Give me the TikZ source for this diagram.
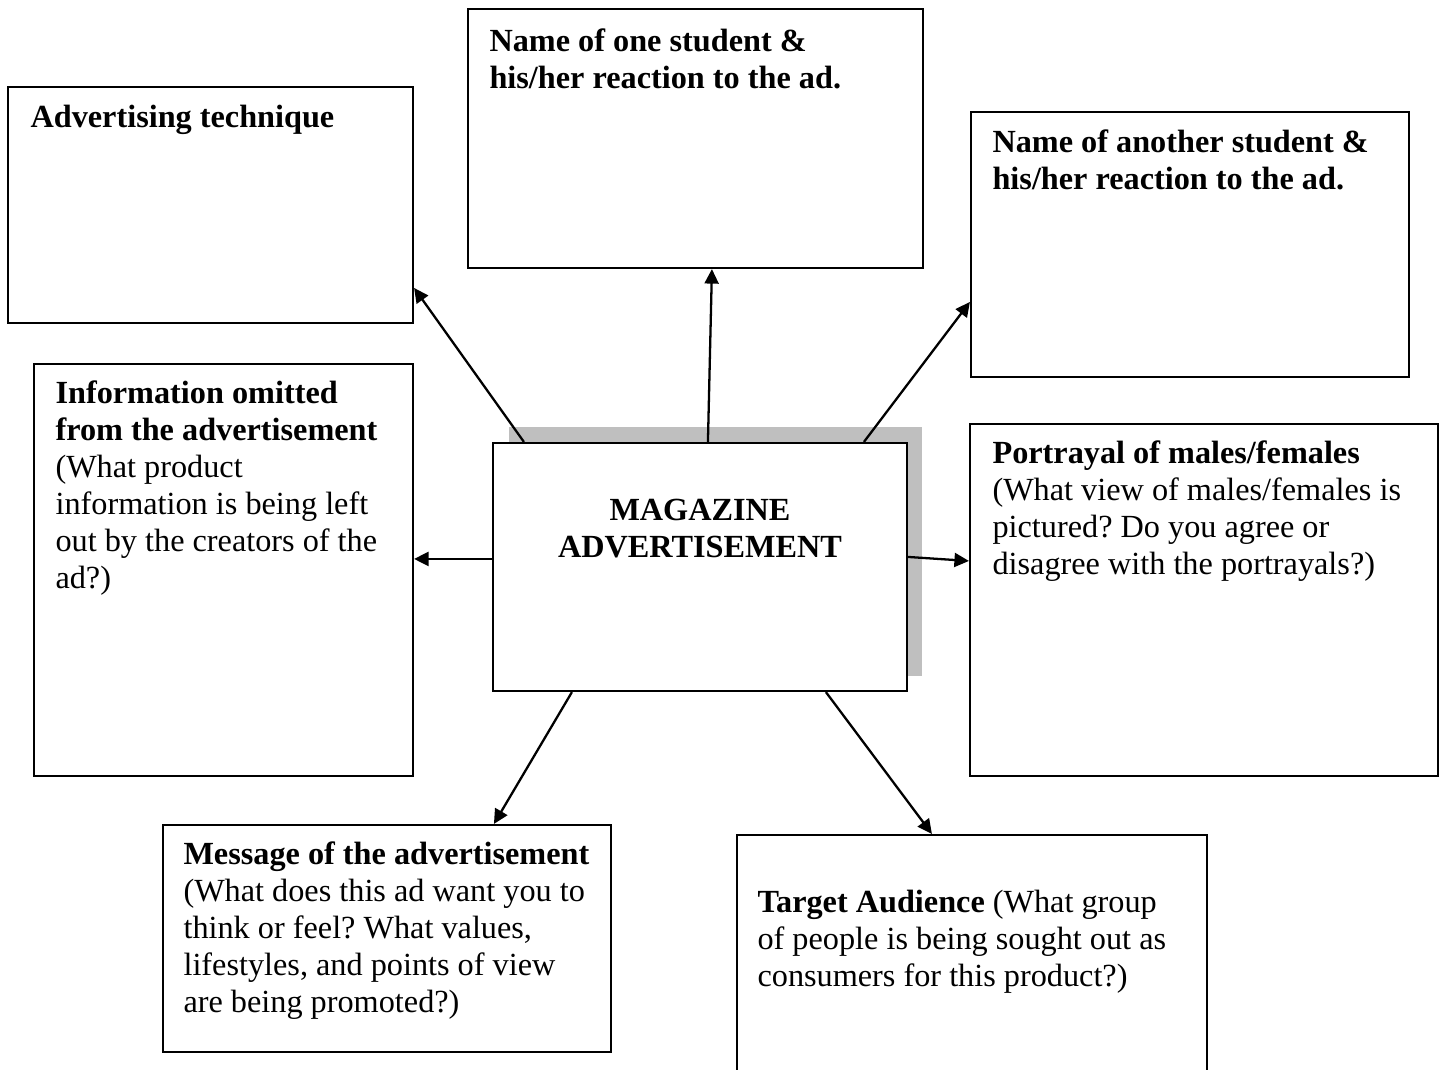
\documentclass[tikz,border=0pt]{standalone}
\usepackage{fontspec}
\setmainfont{Liberation Serif}
\usetikzlibrary{arrows.meta,calc,fit}
\definecolor{shadowgray}{HTML}{BFBFBF}
\frenchspacing
\begin{document}
\begin{tikzpicture}[x=0.372pt,y=-0.372pt,
  box/.style={draw=black,line width=0.8pt,inner sep=0pt,fill=white},
  shade box/.style={fill=shadowgray,inner sep=0pt},
  txt/.style={inner sep=0pt,anchor=base west,align=flush left,text width=240pt,
    font=\fontsize{12pt}{13.8pt}\selectfont\frenchspacing},
  ctxt/.style={inner sep=0pt,anchor=base,align=flush center,text width=160pt,
    font=\fontsize{12pt}{13.8pt}\selectfont\bfseries},
  arr/.style={line width=0.85pt,-{Triangle[length=5.4pt,width=5.2pt]}}
  ]
\clip (0,0) rectangle (1444,1069);
\fill[white] (0,0) rectangle (1444,1069);

% boxes
\node[box, fit={(8,87) (413,323)}] (adv) {};
\node[box, fit={(468,9) (923,268)}] (one) {};
\node[box, fit={(971,112) (1409,377)}] (another) {};
\node[box, fit={(34,364) (413,776)}] (info) {};
\node[shade box, fit={(509,427) (922,676)}] (shadow) {};
\node[box, fit={(493,443) (907,691)}] (c) {};
\node[box, fit={(970,424) (1438,776)}] (port) {};
\node[box, fit={(163,825) (611,1052)}] (msg) {};
\node[box, fit={(737,835) (1207,1100)}] (target) {};

% texts
\node[txt] (advT) at (30,127) {\textbf{Advertising technique}};
\node[txt] (oneT) at (489,51) {\textbf{Name of one student \&}\\\textbf{his/her reaction to the ad.}};
\node[txt] (anotherT) at (992,152) {\textbf{Name of another student \&}\\\textbf{his/her reaction to the ad.}};
\node[txt] (infoT) at (55,403) {\textbf{Information omitted}\\\textbf{from the advertisement}\\(What product\\information is being left\\out by the creators of the\\ad?)};
\node[ctxt] (cT) at (700,520) {MAGAZINE\\ADVERTISEMENT};
\node[txt] (portT) at (992,463) {\textbf{Portrayal of males/females}\\(What view of males/females is\\pictured? Do you agree or\\disagree with the portrayals?)};
\node[txt] (msgT) at (183,864) {\textbf{Message of the advertisement}\\(What does this ad want you to\\think or feel? What values,\\lifestyles, and points of view\\are being promoted?)};
\node[txt] (targetT) at (757,912) {\textbf{Target Audience} (What group\\of people is being sought out as\\consumers for this product?)};

% connectors
\draw[arr] ($(c.north west)+(32,0)$) -- ($(adv.north east)+(0,202)$);
\draw[arr] ($(c.north west)+(216,0)$) -- ($(one.south west)+(245,0)$);
\draw[arr] ($(c.north west)+(372,0)$) -- ($(another.north west)+(0,191)$);
\draw[arr] ($(c.north west)+(0,117)$) -- ($(info.north east)+(0,196)$);
\draw[arr] ($(c.north east)+(0,115)$) -- ($(port.north west)+(0,138)$);
\draw[arr] ($(c.south west)+(80,0)$) -- ($(msg.north west)+(332,0)$);
\draw[arr] ($(c.south west)+(334,0)$) -- ($(target.north west)+(196,0)$);
\end{tikzpicture}
\end{document}
